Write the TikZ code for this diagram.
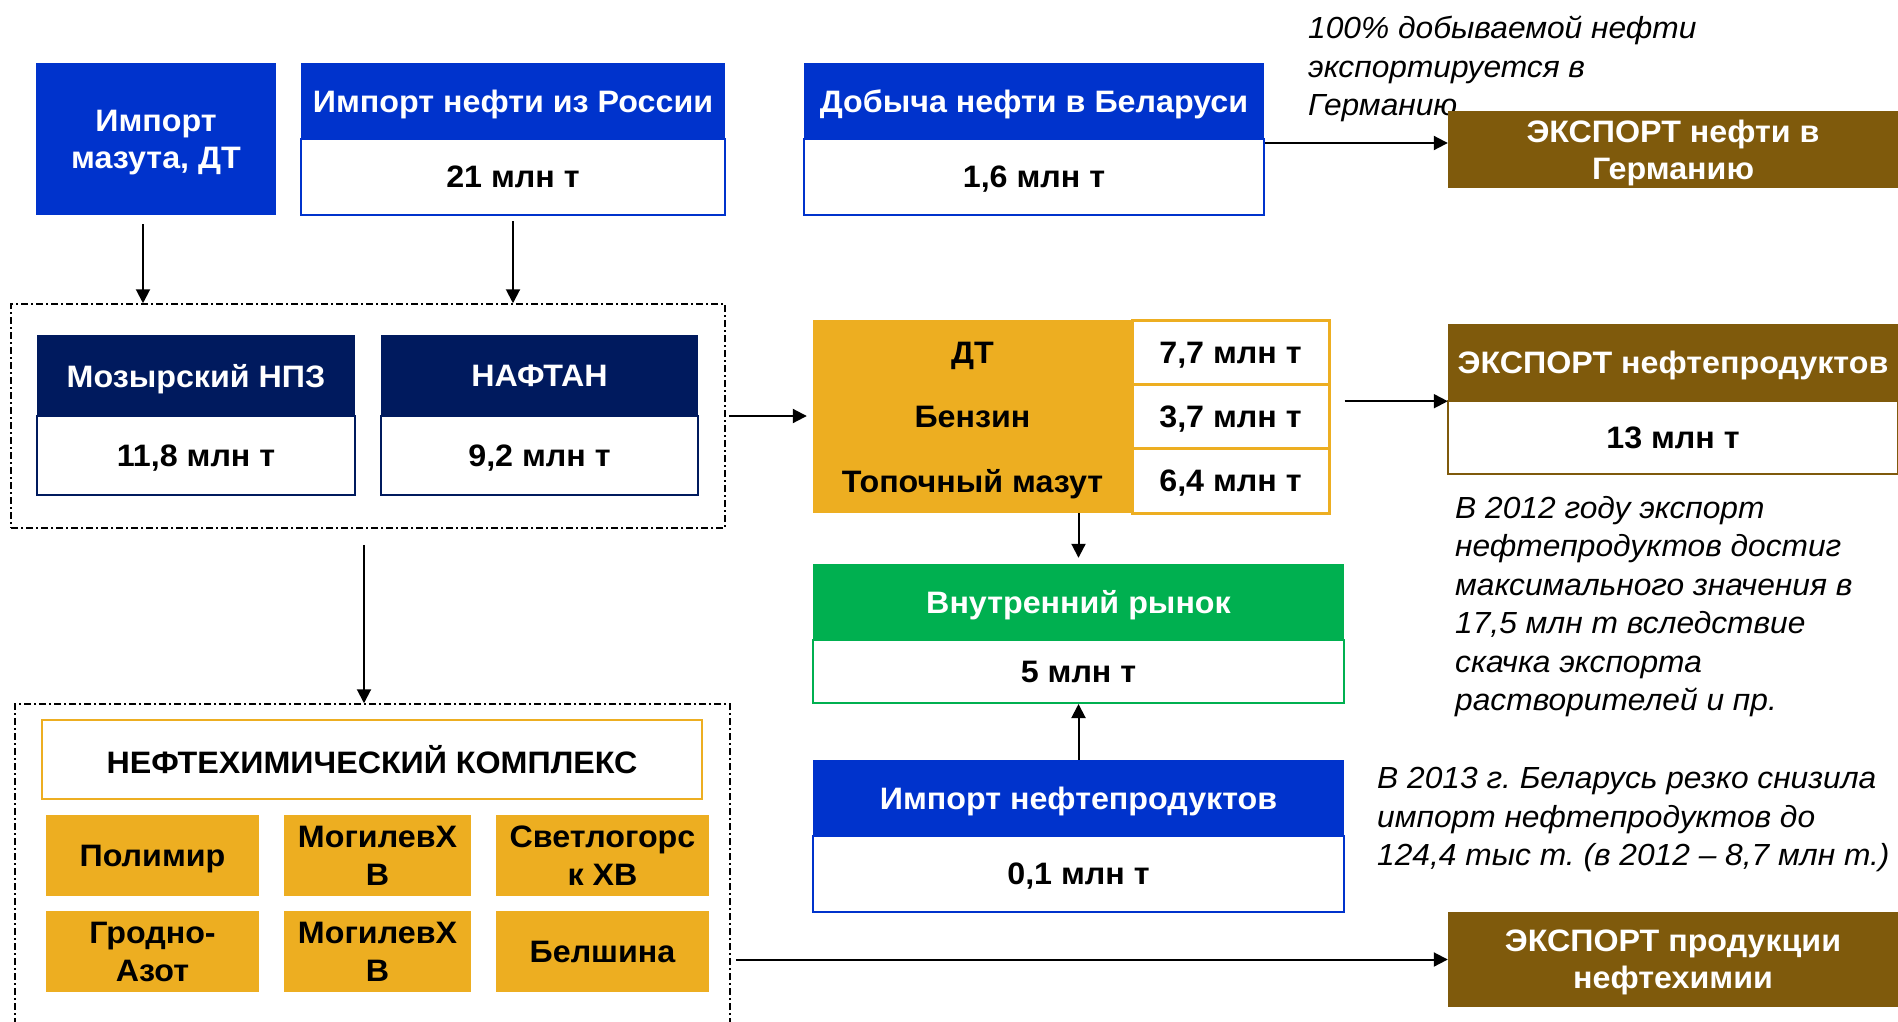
\documentclass[tikz,border=0pt]{standalone}
\usepackage{fontspec}
\setmainfont[FakeStretch=1.04]{Liberation Sans}
\usetikzlibrary{arrows.meta}

\definecolor{impblue}{HTML}{0033CC}
\definecolor{npznavy}{HTML}{001A5E}
\definecolor{exbrown}{HTML}{7F5A0C}
\definecolor{prodorange}{HTML}{EDAE21}
\definecolor{mktgreen}{HTML}{00B050}

\tikzset{
  hdr/.style={rectangle, fill=#1, text=white, inner sep=0pt, align=center, text depth=0pt,
    font=\bfseries\fontsize{31}{37}\selectfont},
  val/.style={rectangle, fill=white, draw=#1, line width=2pt, inner sep=0pt, align=center, text depth=0pt,
    font=\bfseries\fontsize{31}{37}\selectfont},
  cell/.style={rectangle, fill=prodorange, inner sep=0pt, align=center, text depth=0pt,
    font=\bfseries\fontsize{31}{38}\selectfont},
  note/.style={anchor=north west, inner sep=0pt, align=left,
    font=\itshape\fontsize{30.5}{38.5}\selectfont},
  refbox/.style={draw, line width=1.5pt, dash pattern=on 7pt off 3pt on 2pt off 3pt},
  arr/.style={-{Triangle[length=14pt,width=14pt]}, line width=2pt}
}

\begin{document}
\frenchspacing
\begin{tikzpicture}[x=1pt,y=-1pt]
\clip (0,0) rectangle (1898,1021);
\fill[white] (0,0) rectangle (1898,1021);

\node[hdr=impblue, minimum width=240, minimum height=152] (maz) at (156,139) {Импорт\\мазута, ДТ};
\node[hdr=impblue, minimum width=424, minimum height=76] (rus) at (513,101) {Импорт нефти из России};
\node[val=impblue, minimum width=424, minimum height=76] (rusv) at (513,177) {21 млн т};
\node[hdr=impblue, minimum width=460, minimum height=76] (dob) at (1034,101) {Добыча нефти в Беларуси};
\node[val=impblue, minimum width=460, minimum height=76] (dobv) at (1034,177) {1,6 млн т};
\node[note] (germnote) at (1308,16) {100\% добываемой нефти\\экспортируется в\\Германию};
\node[hdr=exbrown, minimum width=450, minimum height=77] (expde) at (1673,149.5) {ЭКСПОРТ нефти в\\Германию};

\node[refbox, minimum width=714, minimum height=224] (ref) at (368,416) {};
\node[hdr=npznavy, minimum width=318, minimum height=81] (moz) at (196,375.5) {Мозырский НПЗ};
\node[val=npznavy, minimum width=318, minimum height=79] (mozv) at (196,455.5) {11,8 млн т};
\node[hdr=npznavy, minimum width=317, minimum height=81] (naf) at (539.5,375.5) {НАФТАН};
\node[val=npznavy, minimum width=317, minimum height=79] (nafv) at (539.5,455.5) {9,2 млн т};

\node[cell, minimum width=319, minimum height=64.5] (dt) at (972.5,352.5) {ДТ};
\node[cell, minimum width=319, minimum height=64.5] (benz) at (972.5,417) {Бензин};
\node[cell, minimum width=319, minimum height=64.5] (fuel) at (972.5,481) {Топочный мазут};
\node[val=prodorange, line width=3pt, minimum width=197, minimum height=64.5] (dtv) at (1230.5,352.5) {7,7 млн т};
\node[val=prodorange, line width=3pt, minimum width=197, minimum height=64.5] (benzv) at (1230.5,417) {3,7 млн т};
\node[val=prodorange, line width=3pt, minimum width=197, minimum height=64.5] (fuelv) at (1230.5,481) {6,4 млн т};

\node[hdr=exbrown, minimum width=450, minimum height=77] (expnp) at (1673,362.5) {ЭКСПОРТ нефтепродуктов};
\node[val=exbrown, minimum width=450, minimum height=73] (expnpv) at (1673,437.5) {13 млн т};
\node[note] (note2012) at (1455,496) {В 2012 году экспорт\\нефтепродуктов достиг\\максимального значения в\\17,5 млн т вследствие\\скачка экспорта\\растворителей и пр.};

\node[hdr=mktgreen, minimum width=531, minimum height=76] (ryn) at (1078.5,602) {Внутренний рынок};
\node[val=mktgreen, minimum width=531, minimum height=63] (rynv) at (1078.5,671.5) {5 млн т};
\node[hdr=impblue, minimum width=531, minimum height=76] (impnp) at (1078.5,798) {Импорт нефтепродуктов};
\node[val=impblue, minimum width=531, minimum height=76] (impnpv) at (1078.5,874) {0,1 млн т};
\node[note] (note2013) at (1377,767) {В 2013 г. Беларусь резко снизила\\импорт нефтепродуктов до\\124,4 тыс т. (в 2012 -- 8,7 млн т.)};
\node[hdr=exbrown, minimum width=450, minimum height=95] (expchem) at (1673,959.5) {ЭКСПОРТ продукции\\нефтехимии};

\node[refbox, minimum width=715, minimum height=341] (ref2) at (372.5,874.5) {};
\node[val=prodorange, minimum width=660, minimum height=79] (cpx) at (372,759.5) {НЕФТЕХИМИЧЕСКИЙ КОМПЛЕКС};
\node[cell, minimum width=213, minimum height=81] (polim) at (152.5,855.5) {Полимир};
\node[cell, minimum width=187, minimum height=81] (mog1) at (377.5,855.5) {МогилевХ\\В};
\node[cell, minimum width=213, minimum height=81] (svet) at (602.5,855.5) {Светлогорс\\к ХВ};
\node[cell, minimum width=213, minimum height=81] (grod) at (152.5,951.5) {Гродно-\\Азот};
\node[cell, minimum width=187, minimum height=81] (mog2) at (377.5,951.5) {МогилевХ\\В};
\node[cell, minimum width=213, minimum height=81] (belsh) at (602.5,951.5) {Белшина};

\draw[arr, shorten <=9pt] ([xshift=-13pt]maz.south) -- ([xshift=-13pt]maz.south |- ref.north);
\draw[arr, shorten <=5pt] (rusv.south) -- (rusv.south |- ref.north);
\draw[arr] ([yshift=-5pt]dobv.north east) -- ([yshift=-5pt]dobv.north east -| expde.west);
\draw[arr, shorten <=3pt, shorten >=6pt] (ref.east) -- (ref.east -| benz.west);
\draw[arr, shorten <=14pt] (benzv.east |- expnp.south west) -- (expnp.south west);
\draw[arr, shorten >=6pt] (fuel.south -| ryn.north) -- (ryn.north);
\draw[arr] (impnp.north) -- (rynv.south);
\draw[arr, shorten <=16pt] ([xshift=-4pt]ref.south) -- ([xshift=-4pt]ref.south |- ref2.north);
\draw[arr, shorten <=5pt] (ref2.east |- expchem.west) -- (expchem.west);
\end{tikzpicture}
\end{document}
